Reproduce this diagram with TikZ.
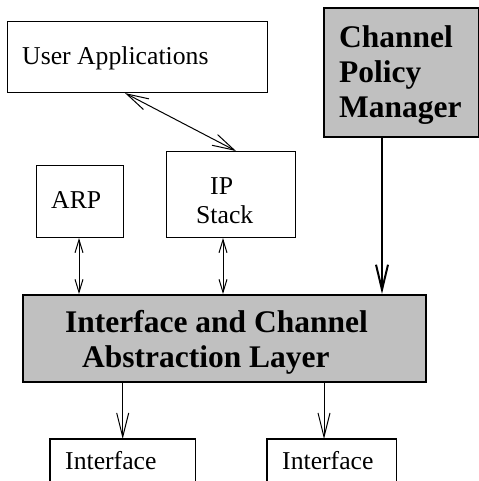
\documentclass[tikz,border=0pt]{standalone}
\usepackage{fontspec}
\setmainfont{Liberation Serif}
\usetikzlibrary{arrows.meta}
\definecolor{figgray}{RGB}{192,192,192}
\begin{document}
\begin{tikzpicture}[x=1bp,y=-1bp,
  box/.style={draw, line width=1.1bp, inner sep=0pt, anchor=north west},
  graybox/.style={box, fill=figgray, line width=1.6bp},
  openbox/.style={inner sep=0pt, anchor=north west},
  txt/.style={inner sep=0pt, anchor=base west, font=\fontsize{25.8pt}{30pt}\selectfont},
  btxt/.style={inner sep=0pt, anchor=base west, font=\fontsize{31.6pt}{36pt}\selectfont\bfseries},
  conn/.style={line width=1bp},
  dblsmall/.style={conn, arrows={Straight Barb[length=13bp,width=8bp]-Straight Barb[length=13bp,width=8bp]}},
  dblbig/.style={conn, arrows={Straight Barb[length=22bp,width=12bp]-Straight Barb[length=22bp,width=12bp]}},
  down/.style={conn, arrows={-Straight Barb[length=24bp,width=12bp]}},
  thickdown/.style={line width=2bp, arrows={-Straight Barb[length=25bp,width=12bp]}}
]
\clip (0,0) rectangle (479,481);
% boxes
\node[box, minimum width=260bp, minimum height=71bp] (ua) at (7,21) {};
\node[graybox, minimum width=155bp, minimum height=129bp] (cpm) at (323,7) {};
\node[box, minimum width=87bp, minimum height=72bp] (arp) at (36,165) {};
\node[box, minimum width=129bp, minimum height=86bp] (ip) at (166,151) {};
\node[graybox, minimum width=403bp, minimum height=87bp] (cal) at (22,294) {};
\node[openbox, minimum width=145bp, minimum height=55bp] (if1) at (50,439) {};
\node[openbox, minimum width=129bp, minimum height=55bp] (if2) at (267,439) {};
\draw[line width=1.1bp] (if1.south west) |- (if1.north east) -- (if1.south east);
\draw[line width=1.1bp] (if2.south west) |- (if2.north east) -- (if2.south east);
% texts
\node[txt] (tua) at (22,65) {User Applications};
\node[btxt] (tcpm1) at (339,48) {Channel};
\node[btxt] (tcpm2) at (339,83) {Policy};
\node[btxt] (tcpm3) at (339,118) {Manager};
\node[txt] (tarp) at (51,208) {ARP};
\node[txt] (tip1) at (210,194) {IP};
\node[txt] (tip2) at (196,223) {Stack};
\node[btxt] (tcal1) at (65,332) {Interface and Channel};
\node[btxt] (tcal2) at (82,367) {Abstraction Layer};
\node[txt] (tif1) at (65,469) {Interface};
\node[txt] (tif2) at (282,469) {Interface};
% connectors
\draw[dblbig] ([xshift=118bp]ua.south west) -- ([xshift=70bp]ip.north west);
\draw[dblsmall] ([xshift=43bp]arp.south west) -- ([xshift=43bp]arp.south west |- cal.north);
\draw[dblsmall] ([xshift=57bp]ip.south west) -- ([xshift=57bp]ip.south west |- cal.north);
\draw[thickdown] ([xshift=59bp]cpm.south west) -- ([xshift=59bp]cpm.south west |- cal.north);
\draw[down] (if1.north |- cal.south) -- (if1.north);
\draw[down] ([xshift=57bp]if2.north west |- cal.south) -- ([xshift=57bp]if2.north west);
\end{tikzpicture}
\end{document}
